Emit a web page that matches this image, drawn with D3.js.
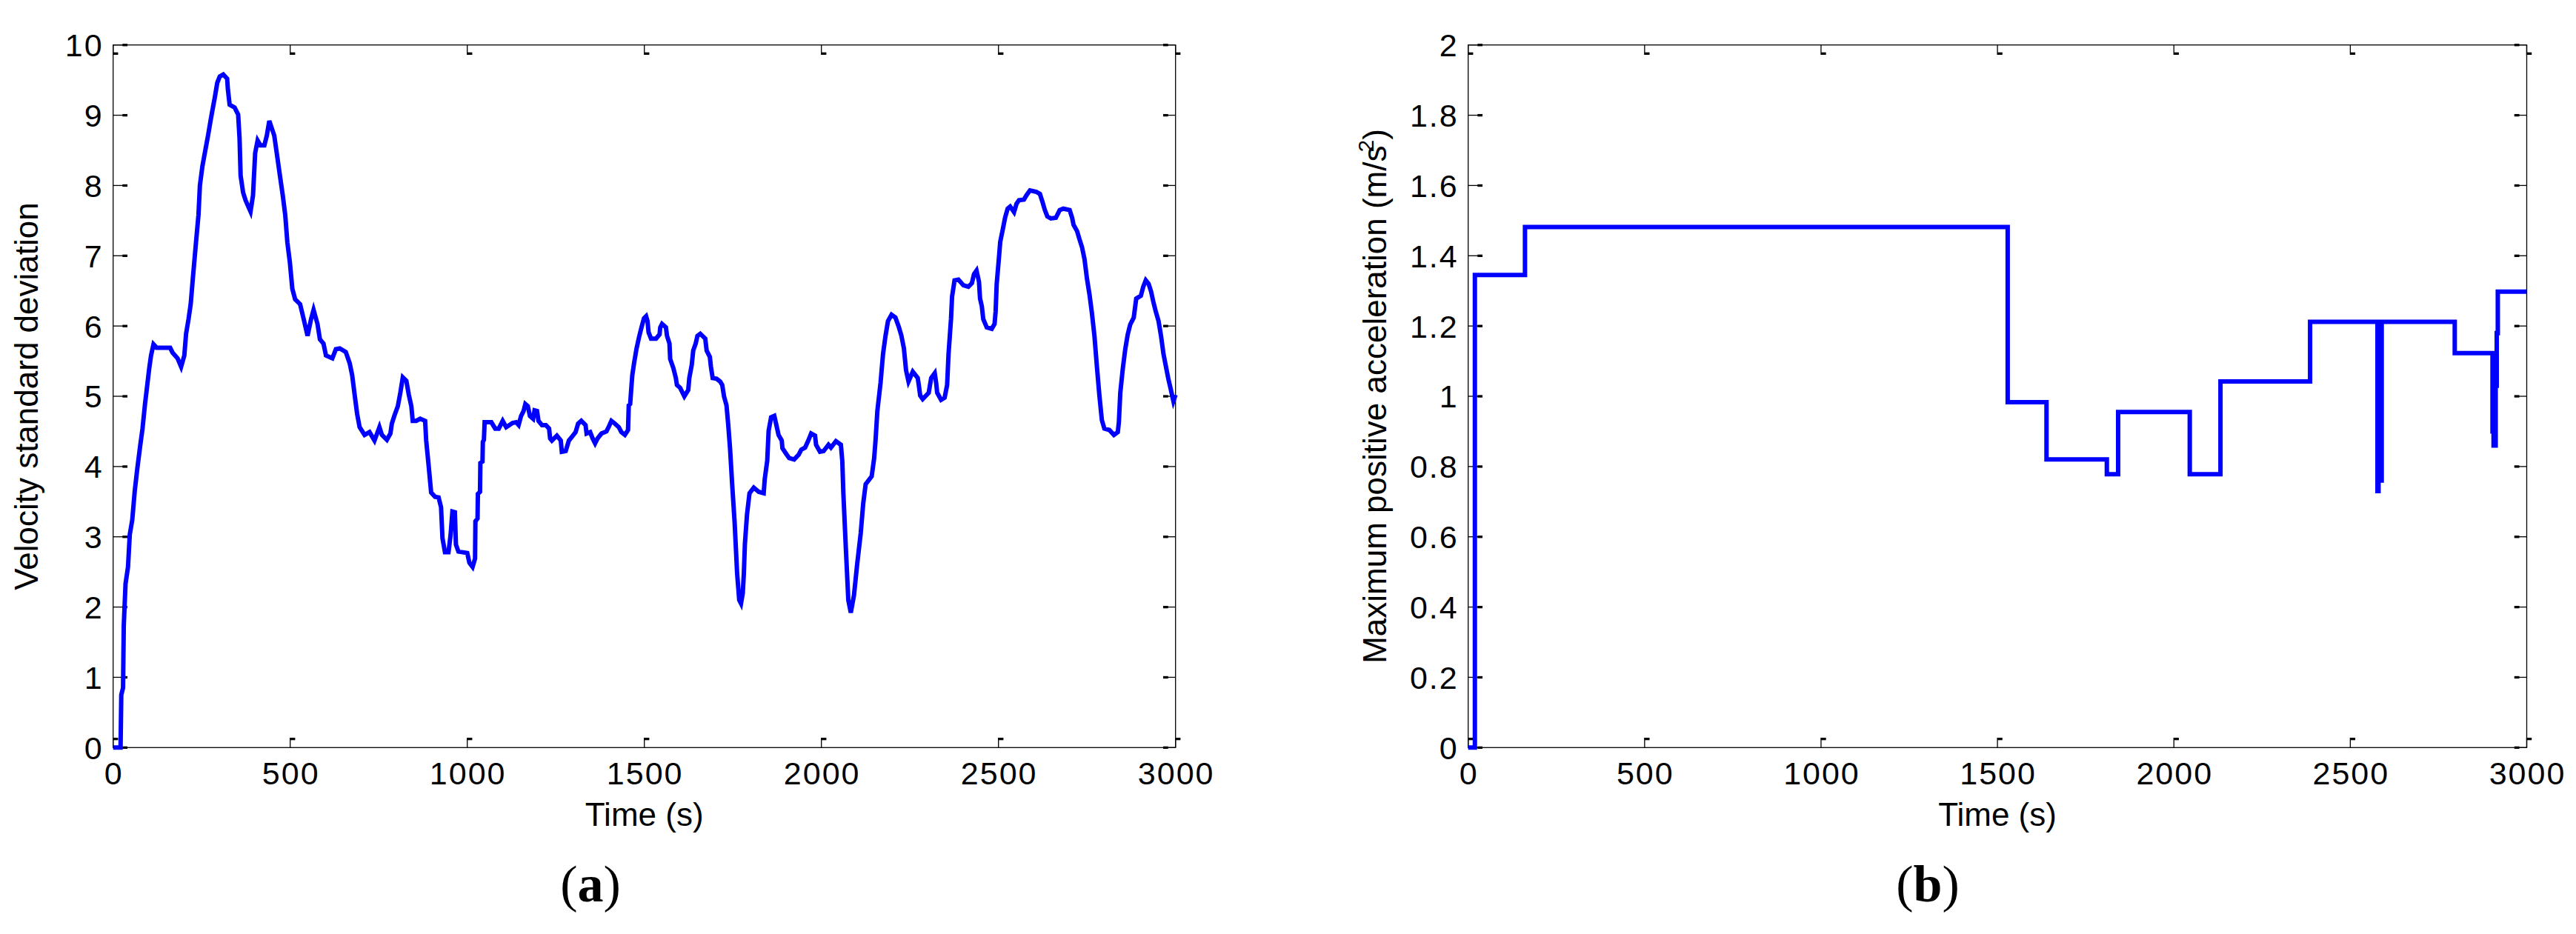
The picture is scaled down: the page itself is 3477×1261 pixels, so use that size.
<!DOCTYPE html>
<meta charset="utf-8">
<style>
body { margin: 0; background: #fff; }
.tick-label { font-family: "Liberation Sans", Arial, sans-serif; font-size: 43px; letter-spacing: 2px; fill: #000; }
.axis-title { font-family: "Liberation Sans", Arial, sans-serif; font-size: 44px; fill: #000; }
.panel-tag { font-family: "Liberation Serif", "Times New Roman", serif; font-size: 70px; fill: #000; }
.frame { fill: none; stroke: #000; stroke-width: 1.3px; }
.tick { stroke: #000; stroke-width: 1.3px; }
.blob { fill: #000; }
.series { fill: none; stroke: #0000ff; stroke-width: 6px; stroke-linejoin: miter; }
</style>
<body>
<svg id="chart" width="3477" height="1261"></svg>
<script src="https://d3js.org/d3.v7.min.js"></script>
<script>

// (a) velocity standard deviation
var velTime = [0, 21, 23, 28, 30, 35, 42, 47, 54, 61, 68, 76, 83, 90, 95, 102, 107, 114, 123, 161, 168, 182, 192, 201,
  206, 213, 219, 225, 234, 241, 245, 252, 261, 268, 275, 280, 287, 294, 301, 311, 322, 324, 329, 343, 353, 357,
  360, 367, 374, 388, 395, 401, 408, 416, 427, 434, 441, 455, 464, 471, 479, 486, 492, 499, 506, 514, 528, 538,
  549, 559, 566, 577, 584, 594, 601, 619, 629, 640, 657, 668, 675, 682, 689, 696, 710, 724, 738, 752, 759, 773,
  783, 787, 794, 804, 811, 818, 828, 835, 842, 846, 856, 867, 881, 884, 891, 898, 909, 919, 926, 930, 937, 947,
  953, 958, 965, 968, 975, 1000, 1006, 1015, 1022, 1023, 1029, 1030, 1036, 1037, 1043, 1044, 1047, 1049, 1068,
  1079, 1089, 1100, 1110, 1128, 1138, 1145, 1152, 1159, 1164, 1171, 1177, 1186, 1190, 1197, 1201, 1211, 1222,
  1231, 1234, 1239, 1253, 1264, 1267, 1278, 1287, 1295, 1306, 1313, 1322, 1334, 1337, 1347, 1354, 1361, 1368,
  1379, 1393, 1400, 1407, 1417, 1428, 1435, 1445, 1454, 1456, 1460, 1463, 1466, 1471, 1478, 1485, 1492, 1499,
  1505, 1509, 1512, 1519, 1533, 1543, 1545, 1550, 1561, 1564, 1571, 1573, 1582, 1589, 1592, 1601, 1613, 1624,
  1627, 1634, 1638, 1645, 1650, 1658, 1672, 1676, 1685, 1688, 1693, 1704, 1714, 1720, 1725, 1732, 1737, 1742,
  1748, 1755, 1762, 1768, 1773, 1778, 1781, 1784, 1790, 1797, 1809, 1823, 1837, 1840, 1847, 1851, 1858, 1867,
  1872, 1879, 1888, 1890, 1902, 1909, 1923, 1936, 1943, 1954, 1963, 1971, 1982, 1985, 1996, 2006, 2020, 2027,
  2041, 2055, 2059, 2062, 2069, 2076, 2083, 2092, 2101, 2111, 2118, 2125, 2142, 2149, 2153, 2158, 2167, 2174,
  2181, 2188, 2198, 2209, 2219, 2226, 2233, 2239, 2246, 2258, 2272, 2275, 2279, 2286, 2303, 2310, 2320, 2324,
  2327, 2338, 2348, 2355, 2359, 2366, 2369, 2376, 2387, 2401, 2415, 2425, 2431, 2438, 2445, 2448, 2453, 2457,
  2467, 2481, 2489, 2492, 2495, 2501, 2505, 2512, 2519, 2526, 2533, 2544, 2551, 2558, 2572, 2579, 2589, 2607,
  2617, 2624, 2631, 2638, 2648, 2662, 2673, 2683, 2701, 2708, 2712, 2722, 2729, 2736, 2743, 2750, 2757, 2764,
  2771, 2778, 2785, 2792, 2799, 2813, 2826, 2837, 2840, 2844, 2851, 2858, 2865, 2872, 2882, 2889, 2902, 2909,
  2916, 2924, 2931, 2937, 2944, 2952, 2959, 2966, 2973, 2980, 2987, 2994, 3000];
var velValue = [0, 0, 0.75, 0.85, 1.73, 2.33, 2.57, 3.03, 3.24, 3.65, 3.96, 4.28, 4.54, 4.89, 5.10, 5.40, 5.58, 5.74,
  5.69, 5.69, 5.62, 5.54, 5.42, 5.58, 5.89, 6.10, 6.31, 6.67, 7.19, 7.58, 8.00, 8.27, 8.52, 8.71, 8.92, 9.06, 9.25,
  9.46, 9.55, 9.58, 9.52, 9.37, 9.15, 9.11, 9.01, 8.67, 8.14, 7.90, 7.79, 7.63, 7.86, 8.46, 8.64, 8.57, 8.57, 8.71,
  8.92, 8.71, 8.39, 8.14, 7.86, 7.58, 7.19, 6.91, 6.53, 6.38, 6.31, 6.10, 5.86, 6.10, 6.23, 6.03, 5.81, 5.75, 5.58,
  5.54, 5.67, 5.68, 5.63, 5.47, 5.30, 5.02, 4.75, 4.56, 4.45, 4.49, 4.37, 4.56, 4.45, 4.38, 4.47, 4.61, 4.72, 4.86,
  5.05, 5.27, 5.22, 5.02, 4.86, 4.65, 4.65, 4.68, 4.65, 4.37, 4.01, 3.63, 3.57, 3.56, 3.42, 2.98, 2.78, 2.78, 3.03,
  3.36, 3.35, 2.89, 2.79, 2.77, 2.63, 2.57, 2.69, 3.22, 3.26, 3.61, 3.64, 4.05, 4.07, 4.35, 4.38, 4.63, 4.63, 4.54,
  4.54, 4.65, 4.56, 4.62, 4.63, 4.59, 4.72, 4.79, 4.89, 4.86, 4.72, 4.68, 4.80, 4.79, 4.65, 4.59, 4.59, 4.54, 4.40,
  4.37, 4.44, 4.37, 4.21, 4.22, 4.37, 4.42, 4.49, 4.61, 4.65, 4.59, 4.47, 4.49, 4.40, 4.33, 4.40, 4.47, 4.50, 4.57,
  4.65, 4.61, 4.56, 4.49, 4.45, 4.52, 4.87, 4.89, 5.10, 5.30, 5.47, 5.68, 5.84, 5.98, 6.11, 6.14, 6.07, 5.91, 5.82,
  5.82, 5.88, 5.98, 6.03, 5.98, 5.86, 5.75, 5.53, 5.40, 5.26, 5.16, 5.12, 5.00, 5.09, 5.26, 5.45, 5.65, 5.75, 5.86,
  5.89, 5.82, 5.65, 5.56, 5.42, 5.26, 5.25, 5.21, 5.16, 5.00, 4.87, 4.59, 4.26, 3.75, 3.20, 2.48, 2.10, 2.05, 2.20,
  2.48, 2.90, 3.32, 3.62, 3.70, 3.64, 3.62, 3.82, 4.08, 4.51, 4.70, 4.72, 4.61, 4.45, 4.37, 4.26, 4.17, 4.12, 4.10,
  4.17, 4.24, 4.27, 4.37, 4.47, 4.44, 4.31, 4.21, 4.22, 4.31, 4.27, 4.36, 4.31, 4.08, 3.62, 2.84, 2.10, 1.92, 2.17,
  2.61, 3.05, 3.47, 3.75, 3.86, 4.12, 4.38, 4.79, 5.19, 5.60, 5.86, 6.07, 6.16, 6.12, 5.98, 5.86, 5.68, 5.37, 5.21,
  5.35, 5.26, 5.16, 5.01, 4.96, 5.05, 5.26, 5.33, 5.19, 5.05, 4.95, 4.98, 5.16, 5.60, 6.10, 6.42, 6.65, 6.66, 6.58,
  6.56, 6.61, 6.74, 6.79, 6.63, 6.39, 6.28, 6.10, 5.98, 5.96, 6.03, 6.21, 6.60, 6.95, 7.20, 7.37, 7.55, 7.67, 7.70,
  7.62, 7.74, 7.79, 7.80, 7.86, 7.93, 7.91, 7.88, 7.77, 7.65, 7.56, 7.53, 7.54, 7.65, 7.67, 7.65, 7.54, 7.44, 7.35,
  7.23, 7.12, 6.95, 6.67, 6.45, 6.18, 5.86, 5.42, 5.01, 4.66, 4.54, 4.52, 4.45, 4.49, 4.63, 5.05, 5.39, 5.67, 5.88,
  6.02, 6.12, 6.39, 6.43, 6.56, 6.65, 6.60, 6.49, 6.35, 6.21, 6.07, 5.86, 5.60, 5.42, 5.24, 5.09, 4.93, 5.02];

// (b) maximum positive acceleration, a step signal (value holds until next time)
var accTime = [0, 19, 161, 1529, 1639, 1810, 1842, 2045, 2132, 2386, 2577, 2580, 2584, 2589, 2796, 2903, 2906, 2912, 2915, 2918, 3000];
var accValue = [0, 1.345, 1.482, 0.983, 0.820, 0.778, 0.955, 0.778, 1.042, 1.212, 0.73, 1.212, 0.76, 1.212, 1.123, 0.90, 0.86, 1.03, 1.18, 1.298, 1.298];

var timeTicks = [0, 500, 1000, 1500, 2000, 2500, 3000];
var velTicks = [0, 1, 2, 3, 4, 5, 6, 7, 8, 9, 10];
var accTicks = [0, 0.2, 0.4, 0.6, 0.8, 1, 1.2, 1.4, 1.6, 1.8, 2];

var svg = d3.select("#chart");
svg.append("rect").attr("width", 3477).attr("height", 1261).attr("fill", "#fff");

drawPanel({
  left: 152.7, right: 1586.7, top: 60.7, bottom: 1009.3,
  yMax: 10, yTicks: velTicks,
  time: velTime, value: velValue, curve: d3.curveLinear,
  ylabelX: 51, tagX: 797
}, function(t) { t.text("Velocity standard deviation"); }, "a");

drawPanel({
  left: 1981.7, right: 3410.5, top: 60.7, bottom: 1009.3,
  yMax: 2, yTicks: accTicks,
  time: accTime, value: accValue, curve: d3.curveStepAfter,
  ylabelX: 1871, tagX: 2602
}, function(t) {
  t.append("tspan").text("Maximum positive acceleration (m/s");
  t.append("tspan").attr("dx", -9).attr("dy", -17).style("font-size", "30px").text("2");
  t.append("tspan").attr("dy", 17).text(")");
}, "b");

function drawPanel(o, ylabel, tag) {
  var x = d3.scaleLinear().domain([0, 3000]).range([o.left, o.right]);
  var y = d3.scaleLinear().domain([0, o.yMax]).range([o.bottom, o.top]);
  var g = svg.append("g");

  g.append("rect").attr("class", "frame")
    .attr("x", o.left).attr("y", o.top)
    .attr("width", o.right - o.left).attr("height", o.bottom - o.top);

  // MATLAB-like inward ticks on all four sides
  timeTicks.forEach(function(d) {
    var px = x(d);
    g.append("line").attr("class", "tick").attr("x1", px).attr("x2", px).attr("y1", o.bottom).attr("y2", o.bottom - 13.3);
    g.append("rect").attr("class", "blob").attr("x", px).attr("y", o.bottom - 13.3).attr("width", 6.7).attr("height", 3.3);
    g.append("line").attr("class", "tick").attr("x1", px).attr("x2", px).attr("y1", o.top).attr("y2", o.top + 13.3);
    g.append("rect").attr("class", "blob").attr("x", px).attr("y", o.top + 10).attr("width", 6.7).attr("height", 3.3);
    g.append("text").attr("class", "tick-label")
      .attr("x", px + 1).attr("y", 1059).attr("text-anchor", "middle").text(d);
  });
  o.yTicks.forEach(function(d) {
    var py = y(d);
    g.append("line").attr("class", "tick").attr("x1", o.left).attr("x2", o.left + 19.3).attr("y1", py).attr("y2", py);
    g.append("rect").attr("class", "blob").attr("x", o.left + 12.6).attr("y", py - 1.6).attr("width", 6.7).attr("height", 3.3);
    g.append("line").attr("class", "tick").attr("x1", o.right).attr("x2", o.right - 16.7).attr("y1", py).attr("y2", py);
    g.append("rect").attr("class", "blob").attr("x", o.right - 16.7).attr("y", py - 1.6).attr("width", 6.7).attr("height", 3.3);
    g.append("text").attr("class", "tick-label")
      .attr("x", o.left - 13).attr("y", py).attr("dy", "0.36em").attr("text-anchor", "end")
      .text(+d.toFixed(1));
  });

  var line = d3.line()
    .x(function(d, i) { return x(o.time[i]); })
    .y(function(d, i) { return y(o.value[i]); })
    .curve(o.curve);
  g.append("path").attr("class", "series").attr("d", line(o.time));

  g.append("text").attr("class", "axis-title")
    .attr("x", (o.left + o.right) / 2).attr("y", 1115).attr("text-anchor", "middle")
    .text("Time (s)");

  var yl = g.append("text").attr("class", "axis-title")
    .attr("transform", "translate(" + o.ylabelX + "," + ((o.top + o.bottom) / 2) + ") rotate(-90)")
    .attr("text-anchor", "middle");
  ylabel(yl);

  var tg = g.append("text").attr("class", "panel-tag")
    .attr("x", o.tagX).attr("y", 1217).attr("text-anchor", "middle");
  tg.append("tspan").text("(");
  tg.append("tspan").style("font-weight", "bold").text(tag);
  tg.append("tspan").text(")");
}
</script>
</body>
